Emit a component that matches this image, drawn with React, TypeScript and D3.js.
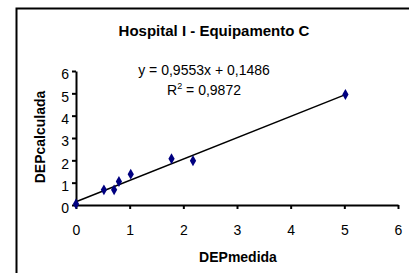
import React, { useEffect, useRef } from 'react'
import * as d3 from 'd3'

// measured values (DEPmedida vs DEPcalculada)
const depMedida = [0, 0.52, 0.71, 0.8, 1.02, 1.78, 2.18, 5.02]
const depCalculada = [0.05, 0.68, 0.68, 1.05, 1.38, 2.07, 1.98, 4.95]
const xTicks = [0, 1, 2, 3, 4, 5, 6]
const yTicks = [0, 1, 2, 3, 4, 5, 6]
const slope = 0.9553
const intercept = 0.1486
const equationText = 'y = 0,9553x + 0,1486'
const rSquaredText = '0,9872'

const FONT = "Arial, 'Liberation Sans', sans-serif"

export default function App() {
  const ref = useRef<SVGSVGElement>(null)

  useEffect(() => {
    const svg = d3.select(ref.current)
    svg.selectAll('*').remove()

    const x = d3.scaleLinear().domain([0, 6]).range([76, 398])
    const y = d3.scaleLinear().domain([0, 6]).range([205, 71])
    const fmt = d3.format('d')

    // outer frame (only top and left edges fall inside the picture)
    svg.append('path')
      .attr('d', 'M16.5,273 L16.5,8.5 L409,8.5')
      .attr('fill', 'none')
      .attr('stroke', '#000')
      .attr('stroke-width', 2)

    // x axis
    const xAxis = svg.append('g')
      .attr('transform', `translate(0, ${y(0)})`)
      .call(d3.axisBottom(x).tickValues(xTicks).tickFormat(fmt).tickSize(4).tickSizeOuter(0).tickPadding(16))
    xAxis.select('.domain').attr('stroke-width', 2)
    xAxis.selectAll('line').attr('stroke-width', 2)
    xAxis.selectAll('text').style('font-family', FONT).style('font-size', '14px').attr('fill', '#000')

    // y axis
    const yAxis = svg.append('g')
      .attr('transform', `translate(${x(0)}, 0)`)
      .call(d3.axisLeft(y).tickValues(yTicks).tickFormat(fmt).tickSize(4).tickSizeOuter(0).tickPadding(3))
    yAxis.select('.domain').attr('stroke-width', 2)
    yAxis.selectAll('line').attr('stroke-width', 2)
    yAxis.selectAll('text').style('font-family', FONT).style('font-size', '14px')
      .attr('fill', '#000').attr('dy', '0.55em')

    // trend line over the data range
    const xExt = d3.extent(depMedida) as [number, number]
    svg.append('line')
      .attr('x1', x(xExt[0])).attr('y1', y(slope * xExt[0] + intercept))
      .attr('x2', x(xExt[1])).attr('y2', y(slope * xExt[1] + intercept))
      .attr('stroke', '#000')
      .attr('stroke-width', 1.5)

    // points
    const pts = depMedida.map((d, i) => ({ mx: d, cy: depCalculada[i] }))
    svg.selectAll('.pt').data(pts).join('path')
      .attr('class', 'pt')
      .attr('d', d3.symbol().type(d3.symbolDiamond).size(34)())
      .attr('transform', d => `translate(${x(d.mx)}, ${y(d.cy)})`)
      .attr('fill', '#000080')

    // title
    svg.append('text')
      .attr('x', 214).attr('y', 36)
      .attr('text-anchor', 'middle')
      .style('font-family', FONT).style('font-size', '15px').style('font-weight', 'bold')
      .text('Hospital I - Equipamento C')

    // regression labels
    svg.append('text')
      .attr('x', 204).attr('y', 75)
      .attr('text-anchor', 'middle')
      .style('font-family', FONT).style('font-size', '14px')
      .text(equationText)

    const r2 = svg.append('text')
      .attr('x', 204).attr('y', 95)
      .attr('text-anchor', 'middle')
      .style('font-family', FONT).style('font-size', '14px')
    r2.append('tspan').text('R')
    r2.append('tspan').attr('dy', -6).style('font-size', '9px').text('2')
    r2.append('tspan').attr('dy', 6).text(' = ' + rSquaredText)

    // axis titles
    svg.append('text')
      .attr('x', 238).attr('y', 262)
      .attr('text-anchor', 'middle')
      .style('font-family', FONT).style('font-size', '14px').style('font-weight', 'bold')
      .text('DEPmedida')

    svg.append('text')
      .attr('transform', 'translate(45, 137) rotate(-90)')
      .attr('text-anchor', 'middle')
      .style('font-family', FONT).style('font-size', '14px').style('font-weight', 'bold')
      .text('DEPcalculada')
  }, [])

  return (
    <svg ref={ref} width={409} height={273}
      style={{ position: 'absolute', left: 0, top: 0, background: '#fff', display: 'block' }} />
  )
}
